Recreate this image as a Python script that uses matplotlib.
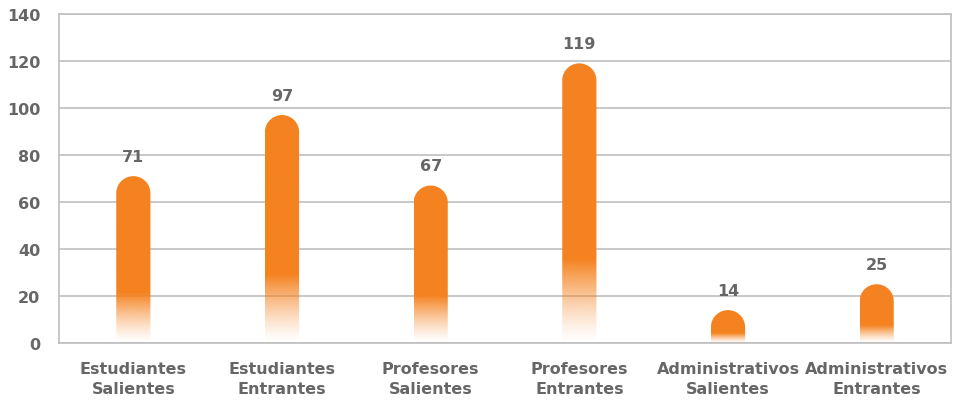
import numpy as np
import matplotlib.pyplot as plt
from matplotlib.path import Path
from matplotlib.patches import PathPatch

categories = ['Estudiantes\nSalientes', 'Estudiantes\nEntrantes', 'Profesores\nSalientes',
              'Profesores\nEntrantes', 'Administrativos\nSalientes', 'Administrativos\nEntrantes']
values = [71, 97, 67, 119, 14, 25]

orange = np.array([245, 130, 32]) / 255
gray_txt = '#666666'
grid_c = '#bfbfbf'

plt.rcParams['font.family'] = ['DejaVu Sans']
plt.rcParams['font.weight'] = 'bold'

fig = plt.figure(figsize=(9.54, 4.02), dpi=100)
ax = fig.add_axes([59/954, 1-344/402, (951-59)/954, (344-15)/402])
ax.set_xlim(-0.5, len(values)-0.5)
ax.set_ylim(0, 140)
ax.set_yticks(range(0, 141, 20))
ax.set_xticks(range(len(values)))
ax.set_xticklabels(categories, linespacing=1.45)
ax.yaxis.grid(True, color=grid_c, lw=1.2)
ax.set_axisbelow(True)
for s in ax.spines.values():
    s.set_color(grid_c)
    s.set_linewidth(1.2)
ax.tick_params(length=0, labelsize=11.5, colors=gray_txt)
ax.tick_params(axis='y', pad=13.5)
ax.tick_params(axis='x', pad=13)
for t in ax.get_xticklabels() + ax.get_yticklabels():
    t.set_fontweight('bold')

# pixel scale for rounded tops
bw = 0.23
px_x = (951-59) / 6.0
px_y = (344-15) / 140.0
r_px = bw * px_x / 2
rx = bw / 2
ry = r_px / px_y

for i, v in enumerate(values):
    x0, x1 = i - rx, i + rx
    top = v
    th = np.linspace(np.pi, 0, 40)
    arc_x = i + rx*np.cos(th)
    arc_y = (top - ry) + ry*np.sin(th)
    verts = [(x0, 0)] + list(zip(arc_x, arc_y)) + [(x1, 0), (x0, 0)]
    codes = [Path.MOVETO] + [Path.LINETO]*(len(verts)-2) + [Path.CLOSEPOLY]
    clip = PathPatch(Path(verts, codes), facecolor='none', edgecolor='none')
    ax.add_patch(clip)
    n = 200
    ys = np.linspace(0, top, n)
    fade = 0.3 * top
    alpha = np.clip(ys / fade, 0, 1) ** 1.3
    img = np.zeros((n, 2, 4))
    img[..., :3] = orange
    img[..., 3] = alpha[:, None]
    im = ax.imshow(img, extent=[x0, x1, 0, top], origin='lower', aspect='auto',
                   interpolation='bilinear', zorder=3)
    im.set_clip_path(clip)
    ax.text(i, top + 20/px_y, str(v), ha='center', va='center', fontsize=11.5,
            fontweight='bold', color=gray_txt)

ax.set_xlim(-0.5, len(values)-0.5)
ax.set_ylim(0, 140)
fig.savefig('out.png', dpi=100)
